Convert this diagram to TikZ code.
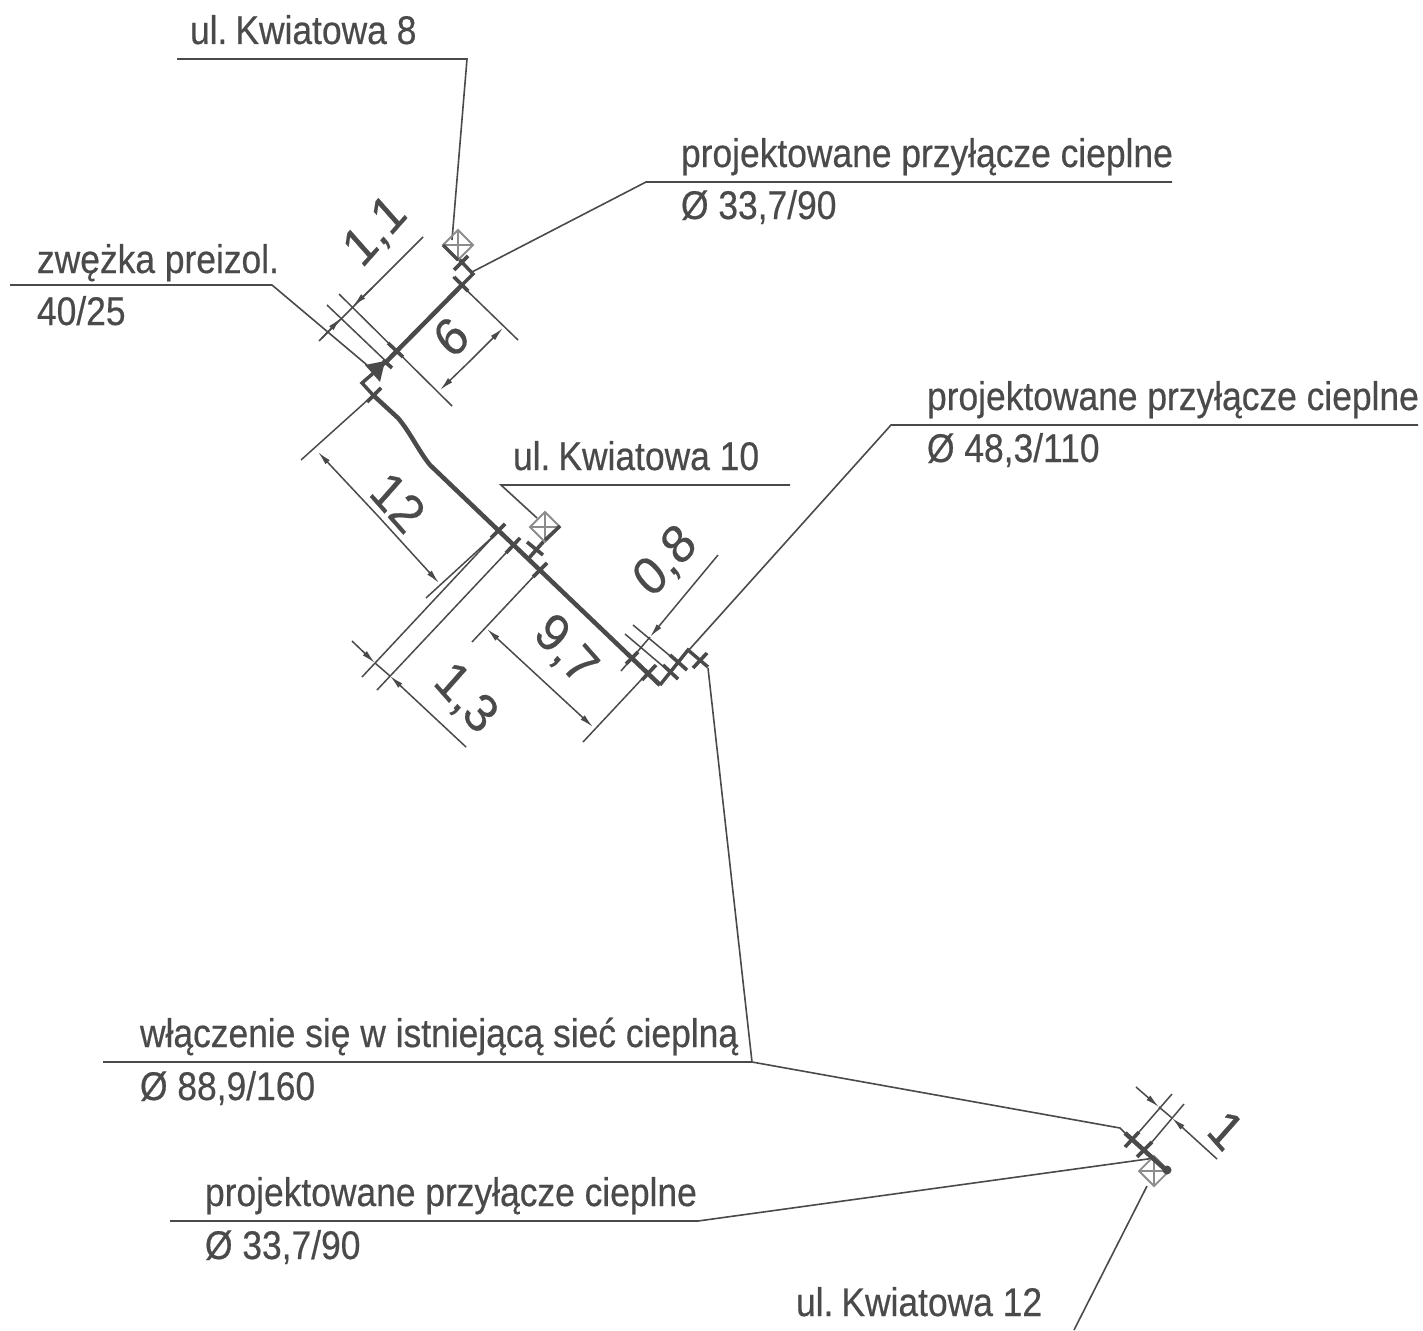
\documentclass[tikz,border=0pt]{standalone}
\usepackage{fontspec}
\setmainfont{Liberation Sans}[FakeBold=0.5]
\newfontfamily\dimfont{Liberation Sans}[FakeBold=0.35]
\usetikzlibrary{arrows.meta}
\definecolor{ink}{HTML}{4A4A4A}
\definecolor{mark}{HTML}{8C8C8C}
\newcommand{\lbl}[1]{\scalebox{.885}[1]{#1}}
\newcommand{\dimlbl}[2]{\scalebox{.885}[1]{\rotatebox{#1}{#2}}}
\tikzset{
  thinl/.style={draw=ink,line width=1.6pt},
  extl/.style={draw=ink,line width=1.5pt},
  pipe/.style={draw=ink,line width=4.5pt},
  midl/.style={draw=ink,line width=3.4pt},
  tick/.style={draw=ink,line width=3.6pt},
  dima/.style={draw=ink,line width=1.5pt,-{Latex[length=14pt,width=6pt]}},
  lab/.style={anchor=base west,inner sep=0pt,outer sep=0pt,text=ink,font=\fontsize{40}{40}\selectfont},
  dimt/.style={inner sep=0pt,outer sep=0pt,text=ink,font=\dimfont\fontsize{54}{54}\selectfont},
  diam/.style={draw=mark,line width=1.8pt}
}
\newcommand{\valve}[2]{%
  \draw[diam] (#1-15,#2) -- (#1,#2-15) -- (#1+15,#2) -- (#1,#2+15) -- cycle
    (#1-15,#2) -- (#1+15,#2) (#1,#2-15) -- (#1,#2+15);}
\begin{document}
\begin{tikzpicture}[x=1pt,y=-1pt]
\useasboundingbox (0,0) rectangle (1423,1330);
% labels
\node[lab] (t1) at (190,44) {\lbl{ul.\kern-2pt\ Kwiatowa 8}};
\node[lab] (t2) at (681,167) {\lbl{projektowane przyłącze cieplne}};
\node[lab] (t3) at (681,219) {\lbl{Ø 33,7/90}};
\node[lab] (t4) at (37,273) {\lbl{zwężka preizol.}};
\node[lab] (t5) at (37,325) {\lbl{40/25}};
\node[lab] (t6) at (513,470) {\lbl{ul.\kern-2pt\ Kwiatowa 10}};
\node[lab] (t7) at (927,410) {\lbl{projektowane przyłącze cieplne}};
\node[lab] (t8) at (927,462) {\lbl{Ø 48,3/110}};
\node[lab] (t9) at (140,1047) {\lbl{włączenie się w istniejącą sieć cieplną}};
\node[lab] (t10) at (140,1100) {\lbl{Ø 88,9/160}};
\node[lab] (t11) at (205,1206) {\lbl{projektowane przyłącze cieplne}};
\node[lab] (t12) at (205,1259) {\lbl{Ø 33,7/90}};
\node[lab] (t13) at (796,1316) {\lbl{ul.\kern-2pt\ Kwiatowa 12}};
% dimension texts
\node[dimt] (d1) at (376,232) {\dimlbl{45}{1,1}};
\node[dimt] (d2) at (451,337) {\dimlbl{45}{6}};
\node[dimt] (d3) at (398,502) {\dimlbl{-45}{12}};
\node[dimt] (d4) at (465,699) {\dimlbl{-45}{1,3}};
\node[dimt] (d5) at (565,651) {\dimlbl{-45}{9,7}};
\node[dimt] (d6) at (666,562) {\dimlbl{45}{0,8}};
\node[dimt] (d7) at (1226,1130) {\dimlbl{-45}{1}};
% leaders
\draw[thinl] (177,59) -- (467,59) -- (452,240);
\draw[thinl] (1172,182) -- (646,182) -- (472,272);
\draw[thinl] (10,285) -- (272,285) -- (367,365);
\draw[thinl] (790,485) -- (501,485) -- (537,518);
\draw[thinl] (1418,425) -- (891,425) -- (688,651);
\draw[thinl] (708,668) -- (752,1062) -- (1120,1128) -- (1126,1134);
\draw[thinl] (103,1062) -- (752,1062);
\draw[thinl] (170,1221) -- (698,1221) -- (1155,1158);
\draw[thinl] (1147,1186) -- (1074,1330);
% extension lines upper branch
\draw[extl] (327,305) -- (392,367);
\draw[extl] (339,294) -- (452,406);
\draw[extl] (453,277) -- (518,340);
\draw[extl] (301,460) -- (381,388);
\draw[extl] (426,598) -- (498,532);
\draw[extl] (362,677) -- (505,524);
\draw[extl] (377,690) -- (520,538);
\draw[extl] (472,642) -- (535,575);
\draw[extl] (583,742) -- (655,665);
\draw[extl] (633,625) -- (687,670);
\draw[extl] (625,634) -- (678,679);
% dimension lines
\draw[extl] (319,341) -- (423,237);
\draw[dima] (372,288) -- (353,306);
\draw[dima] (322,338) -- (341,318);
\draw[dima] (471,360) -- (440,390);
\draw[dima] (471,360) -- (503,328);
\draw[dima] (378,516) -- (318,452);
\draw[dima] (378,516) -- (439,583);
\draw[dima] (352,641) -- (375,663);
\draw[dima] (466,747) -- (390,676);
\draw[extl] (375,663) -- (390,676);
\draw[dima] (540,678) -- (487,629);
\draw[dima] (540,678) -- (593,727);
\draw[extl] (621,671) -- (650,637);
\draw[dima] (718,555) -- (650,637);
% pipe
\draw[pipe] (385,363) -- (462,285);
\draw[midl,line join=miter] (462,285) -- (473,274) -- (458,258);
\draw[tick] (454,277) -- (468,291);
\draw[tick] (454,270) -- (468,256);
\fill[ink] (365,365) -- (385,361) -- (380,382) -- cycle;
\draw[midl,line join=miter] (385,363) -- (362,383) -- (373,395);
\draw[pipe,line join=round] (373,395) -- (398,418) .. controls (410,432) and (418,450) .. (430,465) -- (660,685);
\draw[midl,line join=miter] (660,685) -- (688,650) -- (708,667);
\draw[tick] (381,388) -- (367,402);
\draw[tick] (388,343) -- (403,357);
\draw[tick] (383,360) -- (392,368);
\draw[tick] (505,524) -- (491,538);
\draw[tick] (520,538) -- (506,553);
\draw[tick] (547,563) -- (533,577);
\draw[tick] (527,542) -- (543,555);
\draw[tick] (544,541) -- (529,558);
\draw[tick] (656,665) -- (642,680);
\draw[tick] (638,652) -- (626,664);
\draw[tick] (663,665) -- (678,679);
\draw[tick] (670,655) -- (687,670);
\draw[tick] (707,653) -- (693,668);
% valves
\valve{458}{245}
\valve{545}{527}
\draw[midl] (560,526) -- (545,540);
\draw[midl] (443,245) -- (458,260);
% bottom branch
\valve{1154}{1171}
\draw[pipe] (1125,1133) -- (1168,1172);
\fill[ink] (1167,1170) circle (4.5);
\draw[tick] (1125,1147) -- (1139,1132);
\draw[tick] (1137,1157) -- (1152,1142);
\draw[extl] (1139,1132) -- (1172,1094);
\draw[extl] (1152,1142) -- (1184,1104);
\draw[dima] (1136,1087) -- (1159,1107);
\draw[dima] (1217,1159) -- (1172,1118);
\draw[extl] (1159,1107) -- (1172,1118);
\end{tikzpicture}
\end{document}
